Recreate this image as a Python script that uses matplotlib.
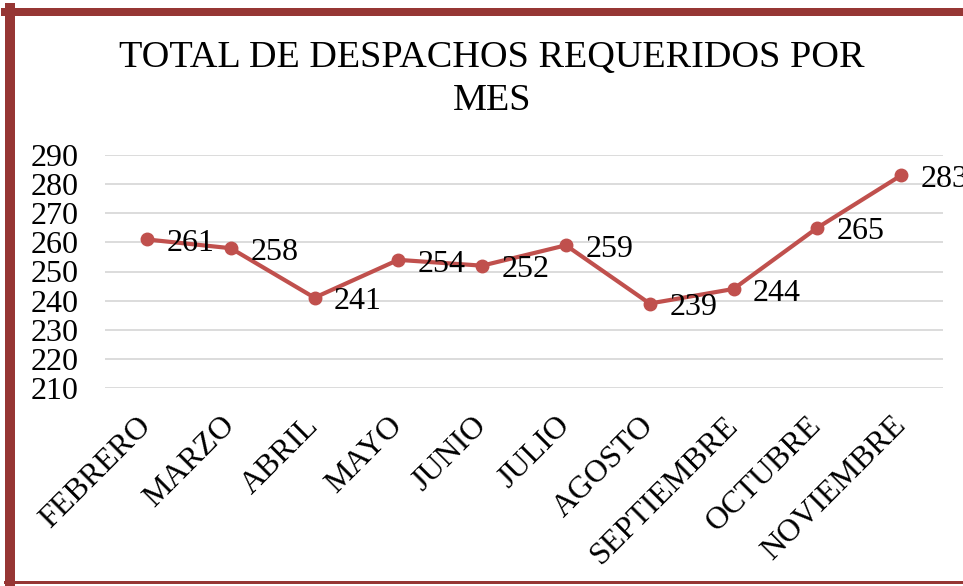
import matplotlib.pyplot as plt
from matplotlib.lines import Line2D

meses = ["FEBRERO", "MARZO", "ABRIL", "MAYO", "JUNIO", "JULIO",
         "AGOSTO", "SEPTIEMBRE", "OCTUBRE", "NOVIEMBRE"]
despachos = [261, 258, 241, 254, 252, 259, 239, 244, 265, 283]
y_ticks = [210, 220, 230, 240, 250, 260, 270, 280, 290]

W, H = 963, 586
plt.rcParams["font.family"] = ["Liberation Serif", "DejaVu Serif"]

fig = plt.figure(figsize=(W / 100, H / 100), dpi=100)
ax = fig.add_axes([105 / W, 1 - 388 / H, (943 - 105) / W, (388 - 155) / H])

x = range(len(meses))
ax.plot(x, despachos, color="#C0504D", linewidth=3, marker="o",
        markersize=9, solid_capstyle="round", zorder=3)
for i, v in enumerate(despachos):
    ax.annotate(str(v), (i, v), xytext=(14, -3), textcoords="offset points",
                ha="left", va="center", fontsize=23, color="black", zorder=4)

ax.set_xlim(-0.5, len(meses) - 0.5)
ax.set_ylim(210, 290)
ax.set_yticks(y_ticks)
ax.set_yticklabels([str(t) for t in y_ticks], fontsize=23)
ax.set_xticks(list(x))
ax.set_xticklabels(meses, fontsize=23, rotation=45, ha="right",
                   va="center", rotation_mode="anchor")
ax.tick_params(axis="both", length=0)
ax.tick_params(axis="x", pad=24)
ax.tick_params(axis="y", pad=19)
ax.grid(axis="y", color="#D9D9D9", linewidth=1.3)
ax.set_axisbelow(True)
for s in ax.spines.values():
    s.set_visible(False)

fig.text(492 / W, 1 - 79 / H, "TOTAL DE DESPACHOS REQUERIDOS POR\nMES",
         ha="center", va="center", fontsize=27.5, linespacing=1.32)

# chart border (dark red frame)
border = "#963634"
fig.add_artist(Line2D([5 / W, 1], [1 - 12 / H, 1 - 12 / H], color=border,
                      linewidth=8 * 0.72, transform=fig.transFigure))
fig.add_artist(Line2D([10 / W, 10 / W], [1 - 8 / H, 1 - 584 / H], color=border,
                      linewidth=10 * 0.72, transform=fig.transFigure))
fig.add_artist(Line2D([5 / W, 1], [1 - 582 / H, 1 - 582 / H], color=border,
                      linewidth=3 * 0.72, transform=fig.transFigure))

fig.savefig("out.png", dpi=100, facecolor="white")
